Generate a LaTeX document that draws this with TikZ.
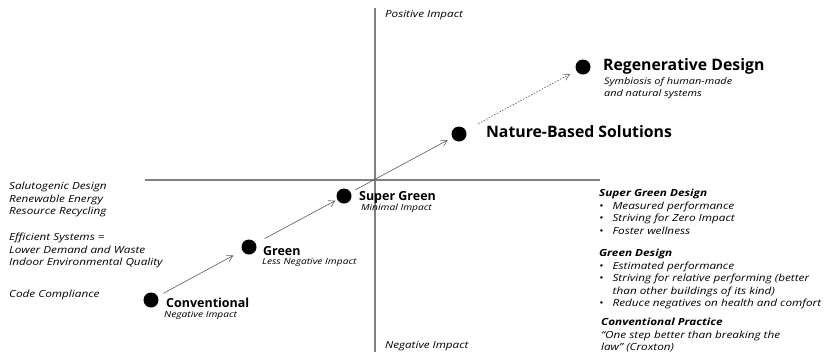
\documentclass[tikz,border=0pt]{standalone}
\usepackage{fontspec}
\setmainfont{Open Sans}[ItalicFeatures={FakeStretch=1.2}, BoldItalicFeatures={FakeStretch=1.2}]
\usetikzlibrary{arrows.meta}

\tikzset{every picture/.style={line width=0.75pt}}
\tikzset{
  axis/.style={draw={rgb,255:red,128;green,128;blue,128}, line width=2.4pt},
  level/.style={circle, fill=black, minimum width=15pt, minimum height=14pt, inner sep=0pt},
  step arrow/.style={draw={rgb,255:red,90;green,90;blue,90}, line width=0.6pt, -{Straight Barb[length=6pt,width=7pt]}},
  title/.style={anchor=west, inner sep=0.75pt, font=\bfseries\fontsize{12.5}{15}\selectfont},
  big title/.style={anchor=west, inner sep=0.75pt, font=\bfseries\fontsize{15.8}{18}\selectfont},
  sub/.style={anchor=west, inner sep=0.75pt, font=\itshape\fontsize{8.5}{10}\selectfont},
  note/.style={anchor=north west, inner sep=0.75pt, align=left, font=\itshape\fontsize{9.8}{12.5}\selectfont},
}

\begin{document}
\begin{tikzpicture}[x=1pt,y=1pt,yscale=-1,xscale=1]
    \useasboundingbox (0,0) rectangle (827,354);

    %Straight Lines [axes]
    \draw [axis] (375,8) -- (375,352) ;
    \draw [axis] (145,180) -- (600,180) ;

    % Text Node
    \node (pos) [anchor=west, inner sep=0.75pt, font=\itshape\fontsize{9.7}{11}\selectfont] at (384,15) {Positive Impact};
    % Text Node
    \node (neg) [anchor=west, inner sep=0.75pt, font=\itshape\fontsize{9.7}{11}\selectfont] at (384,346) {Negative Impact};

    %Shape: Circle [levels]
    \node (conv) [level] at (151,300) {};
    \node (green) [level] at (249,247) {};
    \node (super) [level] at (344,196) {};
    \node (nbs) [level] at (459,134) {};
    \node (regen) [level] at (583,67) {};

    %Straight Lines [steps]
    \draw [step arrow, shorten <=6pt, shorten >=10pt] (conv) -- (green) ;
    \draw [step arrow, shorten <=10pt, shorten >=2pt] (green) -- (super) ;
    \draw [step arrow, shorten <=5pt, shorten >=5pt] (super) -- (nbs) ;
    \draw [step arrow, dash pattern={on 1.6pt off 1.4pt}, shorten <=14pt, shorten >=7pt] (nbs) -- (regen) ;

    % Text Node
    \node (convlbl) [title] at (165,303) {Conventional};
    \node [sub] at (163,315) {Negative Impact};
    % Text Node
    \node (greenlbl) [title] at (262,251) {Green};
    \node [sub] at (261,262) {Less Negative Impact};
    % Text Node
    \node (superlbl) [title] at (358,197) {Super Green};
    \node [sub] at (360,208) {Minimal Impact};
    % Text Node
    \node (nbslbl) [big title] at (485,132) {Nature-Based Solutions};
    % Text Node
    \node (regenlbl) [big title] at (602,66) {Regenerative Design};
    \node [note, font=\itshape\fontsize{9.1}{12}\selectfont] at (603,76) {Symbiosis of human-made\\and natural systems};

    % Text Node
    \node (aims) [note] at (8,181) {Salutogenic Design\\Renewable Energy\\Resource Recycling};
    \node (eff) [note] at (8,232) {Efficient Systems =\\Lower Demand and Waste\\Indoor Environmental Quality};
    \node (code) [note] at (8,289) {Code Compliance};

    % Text Node
    \node (sgd) [note] at (598,188) {\textbf{Super Green Design}\\
      \textbullet\hspace{9pt}Measured performance\\
      \textbullet\hspace{9pt}Striving for Zero Impact\\
      \textbullet\hspace{9pt}Foster wellness};
    % Text Node
    \node (gd) [note] at (598,248) {\textbf{Green Design}\\
      \textbullet\hspace{9pt}Estimated performance\\
      \textbullet\hspace{9pt}Striving for relative performing (better\\
      \hspace{13.6pt}than other buildings of its kind)\\
      \textbullet\hspace{9pt}Reduce negatives on health and comfort};
    % Text Node
    \node (cp) [note] at (600,317) {\textbf{Conventional Practice}\\
      “One step better than breaking the\\
      law” (Croxton)};

\end{tikzpicture}
\end{document}
